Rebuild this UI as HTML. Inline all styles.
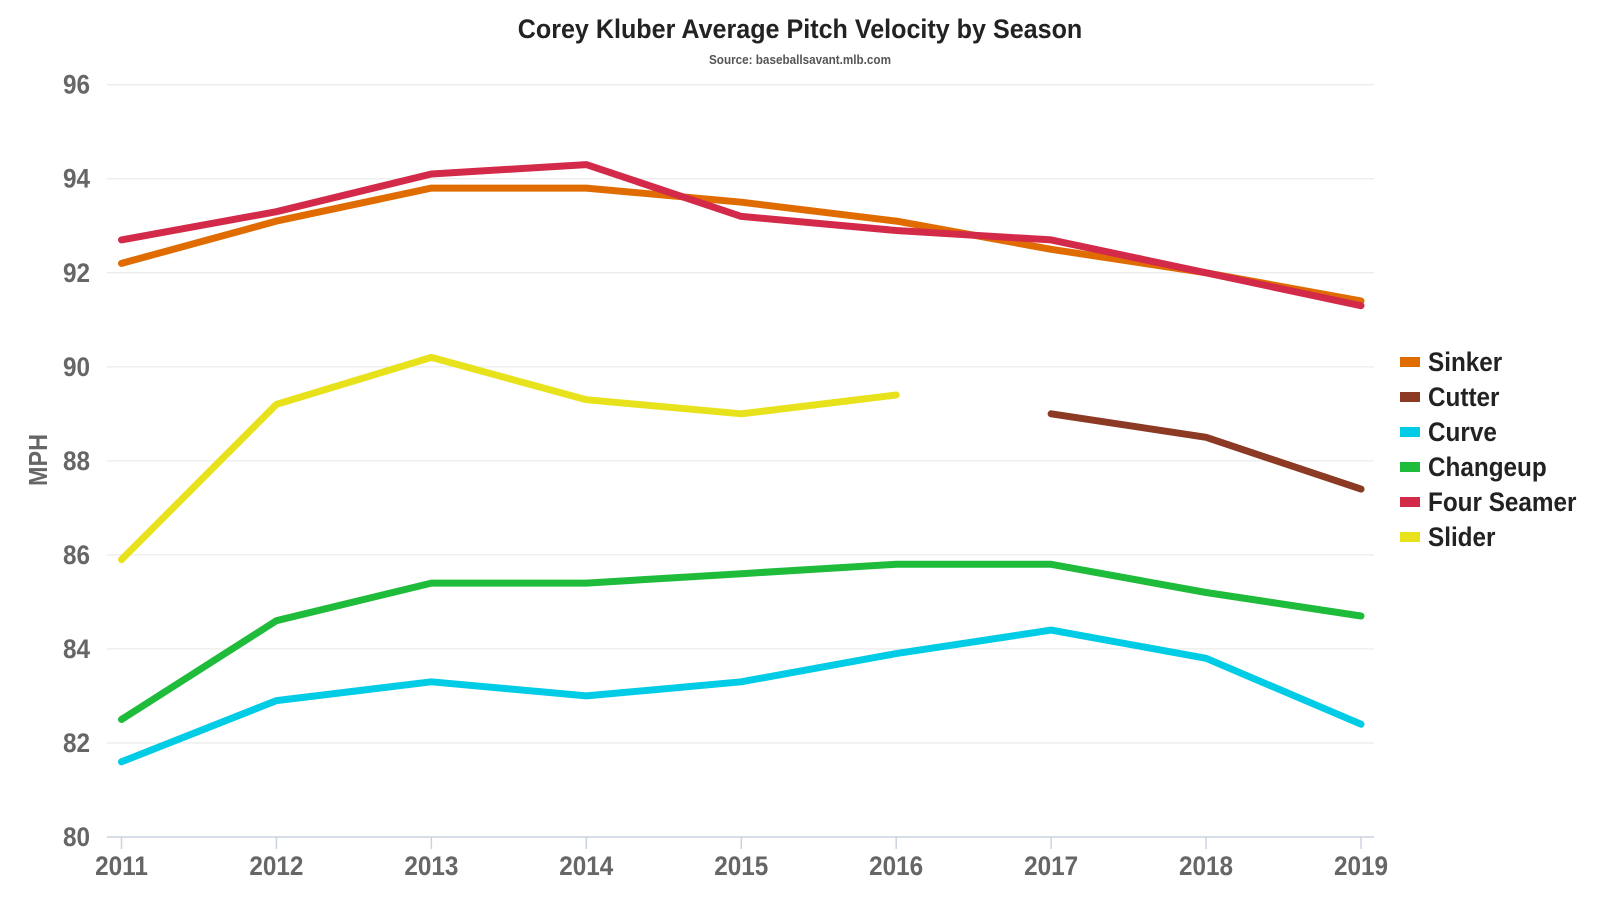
<!DOCTYPE html>
<html><head><meta charset="utf-8"><style>
html,body{margin:0;padding:0;background:#fff;}
svg{display:block;font-family:"Liberation Sans",sans-serif;}
</style></head><body>
<svg id="chart" width="1600" height="900">
<text x="800" y="38" text-anchor="middle" font-size="27" font-weight="bold" fill="#222" transform="translate(800,0) scale(0.93,1) translate(-800,0)">Corey Kluber Average Pitch Velocity by Season</text>
<text x="800" y="64" text-anchor="middle" font-size="13" font-weight="bold" fill="#555" transform="translate(800,0) scale(0.9,1) translate(-800,0)">Source: baseballsavant.mlb.com</text>
<text x="0" y="0" font-size="26" font-weight="bold" fill="#666" text-anchor="middle" transform="translate(47,460) rotate(-90) scale(0.9,1)">MPH</text>
<g id="grid"></g><g id="series"></g><g id="legend"></g>
</svg>
<script>
const years=[2011,2012,2013,2014,2015,2016,2017,2018,2019];
const yTicks=[80,82,84,86,88,90,92,94,96];
const names=["Sinker","Cutter","Curve","Changeup","Four Seamer","Slider"];
const colors=["#e06c00","#8c3a24","#00cce6","#1fbb3a","#d42a4a","#e8e21d"];
const sinker=[92.2,93.1,93.8,93.8,93.5,93.1,92.5,92.0,91.4];
const cutter=[null,null,null,null,null,null,89.0,88.5,87.4];
const curve=[81.6,82.9,83.3,83.0,83.3,83.9,84.4,83.8,82.4];
const changeup=[82.5,84.6,85.4,85.4,85.6,85.8,85.8,85.2,84.7];
const fourSeamer=[92.7,93.3,94.1,94.3,93.2,92.9,92.7,92.0,91.3];
const slider=[85.9,89.2,90.2,89.3,89.0,89.4,null,null,null];
const seriesData=[sinker,cutter,curve,changeup,fourSeamer,slider];
const drawOrder=[3,2,0,4,5,1];
const NS="http://www.w3.org/2000/svg";
const x=i=>121.5+i*(1361-121.5)/(years.length-1);
const y=v=>837-(v-80)*(837-84.7)/16;
function mk(t,a,p){const e=document.createElementNS(NS,t);for(const k in a)e.setAttribute(k,a[k]);p.appendChild(e);return e;}
const grid=document.getElementById('grid');
yTicks.forEach(v=>{
  const l=mk('line',{x1:107,x2:1374,y1:y(v),y2:y(v),stroke:v===80?'#ccd3e0':'#e6e6e6','stroke-width':v===80?1.5:1},grid);
  
  
  const t=mk('text',{x:90,y:y(v)+9,'text-anchor':'end','font-size':27,'font-weight':'bold',fill:'#666',transform:`translate(90,0) scale(0.9,1) translate(-90,0)`},grid);
  t.textContent=v;
  
  
});
years.forEach((yr,i)=>{
  const tk=mk('line',{x1:x(i),x2:x(i),y1:837,y2:849,stroke:'#ccd3e0','stroke-width':1.5},grid);
  
  
  const t=mk('text',{x:x(i),y:875,'text-anchor':'middle','font-size':27,'font-weight':'bold',fill:'#666',transform:`translate(${x(i)},0) scale(0.9,1) translate(${-x(i)},0)`},grid);
  t.textContent=yr;
  
  
});
const sg=document.getElementById('series');
drawOrder.forEach(s=>{
  const d=seriesData[s];let path='',pen=false;
  d.forEach((v,i)=>{if(v==null){pen=false;return;}path+=(pen?'L':'M')+x(i).toFixed(1)+','+y(v).toFixed(1);pen=true;});
  const p=mk('path',{d:path,fill:'none',stroke:colors[s],'stroke-width':7,'stroke-linejoin':'round','stroke-linecap':'round'},sg);
  
  
});
const lg=document.getElementById('legend');
names.forEach((n,i)=>{
  const yy=362+i*35;
  const r=mk('rect',{x:1400,y:yy-5,width:20,height:10,fill:colors[i]},lg);
  
  
  const t=mk('text',{x:1428,y:yy+9,'font-size':27,'font-weight':'bold',fill:'#222',transform:`translate(1428,0) scale(0.9,1) translate(-1428,0)`},lg);
  t.textContent=n;
  
  
});
</script>
</body></html>
